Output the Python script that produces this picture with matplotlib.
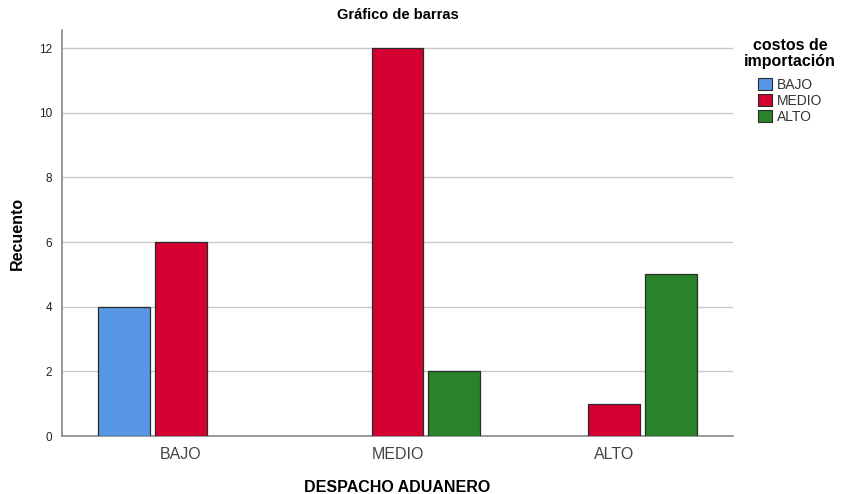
import matplotlib
matplotlib.use("Agg")
import matplotlib.pyplot as plt
from matplotlib.patches import Patch
import numpy as np

plt.rcParams["font.family"] = ["Liberation Sans", "DejaVu Sans"]

categories = ["BAJO", "MEDIO", "ALTO"]
series_names = ["BAJO", "MEDIO", "ALTO"]
bajo_vals = [4, 0, 0]
medio_vals = [6, 12, 1]
alto_vals = [0, 2, 5]
colors = ["#5896E6", "#D50032", "#2A832A"]
yticks = [0, 2, 4, 6, 8, 10, 12]

fig = plt.figure(figsize=(8.47, 4.94), dpi=100)
ax = fig.add_axes([62/847, 58/494, (733-62)/847, (436-29)/494 - 1/494])

x = np.arange(len(categories))
slot = 0.263
width = 0.240
for i, (vals, col) in enumerate(zip([bajo_vals, medio_vals, alto_vals], colors)):
    offs = (i - 1) * slot
    xs = [xx + offs for xx, v in zip(x, vals) if v > 0]
    hs = [v for v in vals if v > 0]
    ax.bar(xs, hs, width=width, color=col, edgecolor="#2b2b2b", linewidth=0.9, zorder=3)

ax.set_xlim(-0.550, 2.550)
ax.set_ylim(0, 12.56)
ax.set_yticks(yticks)
ax.set_yticklabels([str(t) for t in yticks], fontsize=8.5, color="#222222")
ax.set_xticks(x)
ax.set_xticklabels(categories, fontsize=11.5, color="#444444")
ax.tick_params(axis="both", length=0)
ax.tick_params(axis="y", pad=7)
ax.tick_params(axis="x", pad=8)
ax.grid(axis="y", color="#C8C8C8", linewidth=1.0, zorder=0)
for s in ["top", "right"]:
    ax.spines[s].set_visible(False)
ax.spines["left"].set_color("#888888")
ax.spines["bottom"].set_color("#888888")
ax.spines["left"].set_linewidth(1.2)
ax.spines["bottom"].set_linewidth(1.2)

ax.set_title("Gráfico de barras", fontsize=10.5, fontweight="bold", pad=8)
ax.set_ylabel("Recuento", fontsize=11.5, fontweight="bold", labelpad=10)
ax.set_xlabel("DESPACHO ADUANERO", fontsize=11.5, fontweight="bold", labelpad=13)

handles = [Patch(facecolor=c, edgecolor="#2b2b2b", linewidth=0.8) for c in colors]
leg = fig.legend(handles, series_names, title="costos de\nimportación",
                 loc="upper center", bbox_to_anchor=(790/847, 1 - 32/494),
                 frameon=False, fontsize=10, handlelength=1.0, handleheight=1.0,
                 handletextpad=0.35, labelspacing=0.15, borderaxespad=0,
                 title_fontproperties={"weight": "bold", "size": 11.5})
leg._legend_box.align = "center"
leg._legend_box.sep = 6
leg.get_title().set_multialignment("center")
leg.get_title().set_linespacing(1.15)
for t in leg.get_texts():
    t.set_color("#333333")

fig.savefig("out.png", dpi=100)
